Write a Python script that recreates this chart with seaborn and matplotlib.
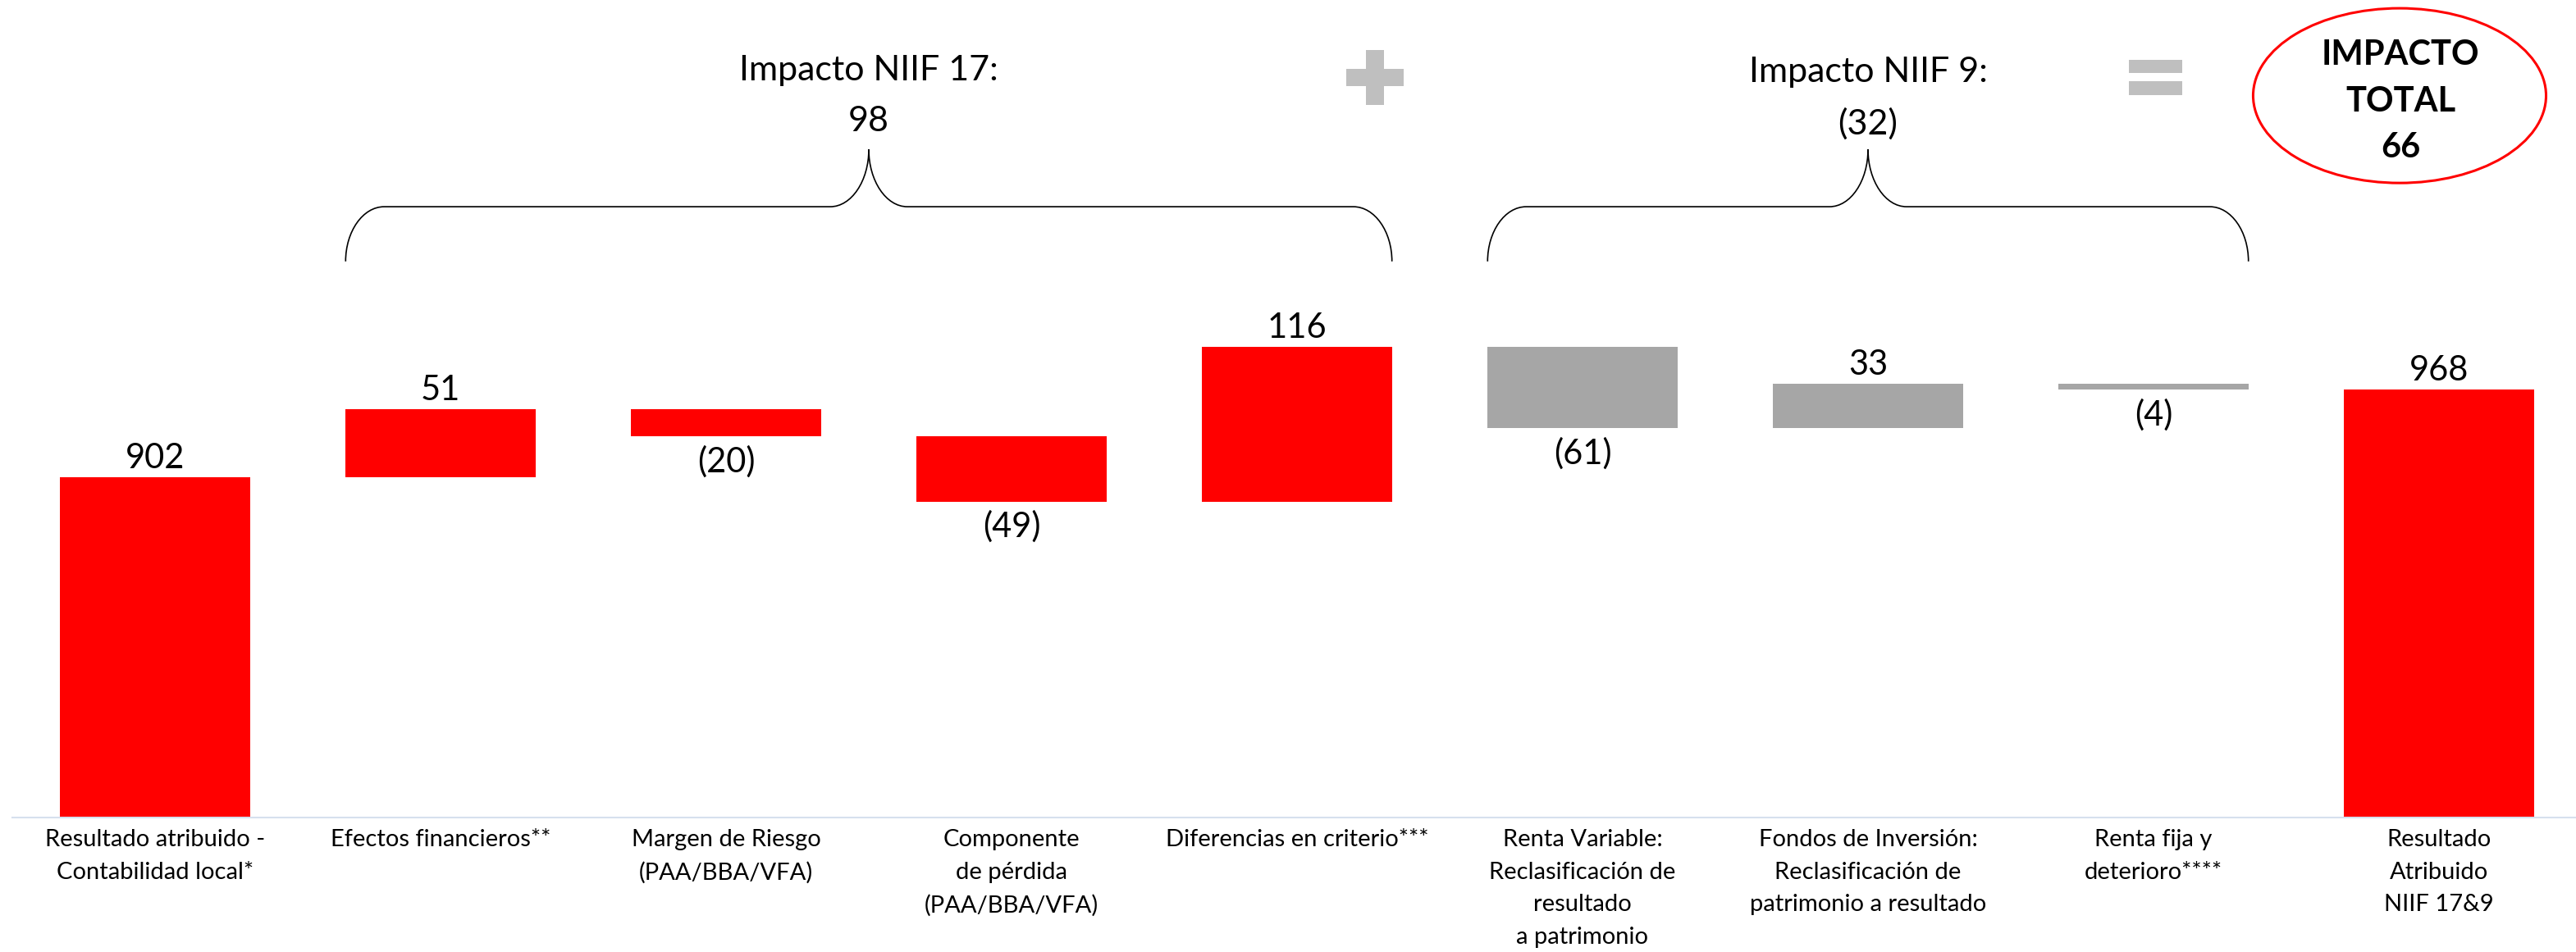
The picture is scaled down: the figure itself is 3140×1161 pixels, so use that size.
import matplotlib
matplotlib.use("Agg")
import matplotlib.pyplot as plt
import seaborn as sns
import pandas as pd
import numpy as np
from matplotlib.patches import Rectangle, Ellipse, PathPatch
from matplotlib.path import Path

# ---------------- data ----------------
categories = [
    "Resultado atribuido -\nContabilidad local*",
    "Efectos financieros**",
    "Margen de Riesgo\n(PAA/BBA/VFA)",
    "Componente\nde pérdida\n(PAA/BBA/VFA)",
    "Diferencias en criterio***",
    "Renta Variable:\nReclasificación de\nresultado\na patrimonio",
    "Fondos de Inversión:\nReclasificación de\npatrimonio a resultado",
    "Renta fija y\ndeterioro****",
    "Resultado\nAtribuido\nNIIF 17&9",
]
values = [902, 51, -20, -49, 116, -61, 33, -4, 968]
is_total = [True, False, False, False, False, False, False, False, True]
groups = ["base", "niif17", "niif17", "niif17", "niif17", "niif9", "niif9", "niif9", "total"]
group_colors = {"base": "#FF0000", "niif17": "#FF0000", "niif9": "#A6A6A6", "total": "#FF0000"}
title_17 = "Impacto NIIF 17:"
title_9 = "Impacto NIIF 9:"
total_title = "IMPACTO\nTOTAL"

# ---------------- waterfall geometry ----------------
bottoms, heights = [], []
running = 0
for v, t in zip(values, is_total):
    if t:
        bottoms.append(0); heights.append(v); running = v
    else:
        if v >= 0:
            bottoms.append(running); heights.append(v)
        else:
            bottoms.append(running + v); heights.append(-v)
        running += v

def fmt(v):
    return f"({abs(v)})" if v < 0 else f"{v}"

imp17 = sum(v for v, g in zip(values, groups) if g == "niif17")
imp9 = sum(v for v, g in zip(values, groups) if g == "niif9")
imp_total = imp17 + imp9

df = pd.DataFrame({"cat": categories, "height": heights, "bottom": bottoms})

# ---------------- style ----------------
sns.set_theme(style="white")
plt.rcParams["font.family"] = ["Lato", "DejaVu Sans"]

W, H = 3140, 1161
fig = plt.figure(figsize=(W / 100, H / 100), dpi=100)
ax = fig.add_axes([15 / W, 1 - 997 / H, 9 * 348 / W, 997 / H])

BW = 0.665
sns.barplot(data=df, x="cat", y="height", bottom=df["bottom"].values, width=BW,
            color="#FF0000", saturation=1, linewidth=0, ax=ax)
for p, g in zip(ax.patches, groups):
    p.set_facecolor(group_colors[g])
    p.set_edgecolor("none")

ax.set_xlim(-0.5, 8.5)
ax.set_ylim(647, 1260)
ax.set_xlabel("")
ax.set_ylabel("")
ax.set_yticks([])
for s in ["top", "left", "right"]:
    ax.spines[s].set_visible(False)
ax.spines["bottom"].set_color("#D6E0EE")
ax.spines["bottom"].set_linewidth(1.5)
ax.tick_params(axis="x", length=0, pad=10, labelsize=21, labelcolor="#000000")
for lbl in ax.get_xticklabels():
    lbl.set_linespacing(1.65)

# value labels
for i, (v, b, h, t) in enumerate(zip(values, bottoms, heights, is_total)):
    if t or v >= 0:
        ax.annotate(fmt(v), (i, b + h), xytext=(0, 3), textcoords="offset points",
                    ha="center", va="bottom", fontsize=30, color="#000000")
    else:
        ax.annotate(fmt(v), (i, b), xytext=(0, -8), textcoords="offset points",
                    ha="center", va="top", fontsize=30, color="#000000")

# braces
def brace(x0, x1, y_end=1064, y_h=1105, y_peak=1148, dx=0.135, k=0.55):
    xm = (x0 + x1) / 2
    verts = [
        (x0, y_end),
        (x0, y_end + k * (y_h - y_end)), (x0 + (1 - k) * dx, y_h), (x0 + dx, y_h),
        (xm - dx, y_h),
        (xm - dx + k * dx, y_h), (xm, y_peak - k * (y_peak - y_h)), (xm, y_peak),
        (xm, y_peak - k * (y_peak - y_h)), (xm + dx - k * dx, y_h), (xm + dx, y_h),
        (x1 - dx, y_h),
        (x1 - (1 - k) * dx, y_h), (x1, y_end + k * (y_h - y_end)), (x1, y_end),
    ]
    codes = [Path.MOVETO] + [Path.CURVE4] * 3 + [Path.LINETO] + [Path.CURVE4] * 6 + \
            [Path.LINETO] + [Path.CURVE4] * 3
    ax.add_patch(PathPatch(Path(verts, codes), facecolor="none", edgecolor="#000000",
                           lw=1.2, clip_on=False))
    return xm

xm17 = brace(1 - BW / 2, 4 + BW / 2)
xm9 = brace(5 - BW / 2, 7 + BW / 2)

ax.text(xm17, 1188, f"{title_17}\n{fmt(imp17)}", ha="center", va="center",
        fontsize=31, linespacing=1.75, color="#000000")
ax.text(xm9, 1186, f"{title_9}\n{fmt(imp9)}", ha="center", va="center",
        fontsize=31, linespacing=1.75, color="#000000")

# plus sign
SIGN = "#BFBFBF"
px, py = 4.273, 1202
ax.add_patch(Rectangle((px - 0.102, py - 6.5), 0.204, 13, color=SIGN, lw=0, clip_on=False))
ax.add_patch(Rectangle((px - 0.032, py - 20.6), 0.064, 41.2, color=SIGN, lw=0, clip_on=False))
# equals sign
ax.add_patch(Rectangle((6.914, 1205), 0.187, 10.4, color=SIGN, lw=0, clip_on=False))
ax.add_patch(Rectangle((6.914, 1188.9), 0.187, 10.4, color=SIGN, lw=0, clip_on=False))

# total ellipse
ax.add_patch(Ellipse((7.862, 1188.3), 1.026, 131, facecolor="none", edgecolor="#FF0000",
                     lw=2.2, clip_on=False))
ax.text(7.865, 1184, f"{total_title}\n{imp_total}", ha="center", va="center",
        fontsize=30, fontweight="bold", linespacing=1.6, color="#000000")

fig.savefig("out.png", dpi=100)
